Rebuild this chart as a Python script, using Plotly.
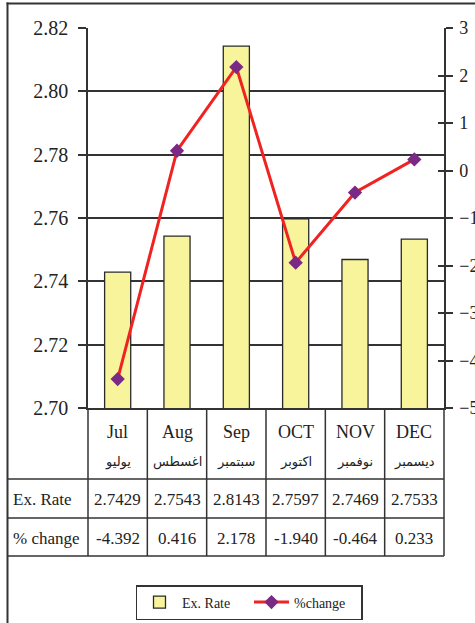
import plotly.graph_objects as go

# ---------------- data ----------------
months_en = ["Jul", "Aug", "Sep", "OCT", "NOV", "DEC"]
months_ar = ["يوليو", "اغسطس", "سبتمبر", "اكتوبر", "نوفمبر", "ديسمبر"]
ex_rate = [2.7429, 2.7543, 2.8143, 2.7597, 2.7469, 2.7533]
pct_change = [-4.392, 0.416, 2.178, -1.940, -0.464, 0.233]
left_ticks = [2.70, 2.72, 2.74, 2.76, 2.78, 2.80, 2.82]
right_ticks = [-5, -4, -3, -2, -1, 0, 1, 2, 3]
row_labels = ["Ex. Rate", "% change"]

# ---------------- layout helpers ----------------
W, H = 475, 623
L, R, T, B = 88, 31, 28, 215
PW, PH = W - L - R, H - T - B
def py(pix):
    return (H - B - pix) / PH
def px(pix):
    return (pix - L) / PW

SERIF = "Liberation Serif, Times New Roman, serif"
DARK = "#222222"
LINEC = "#333333"

fig = go.Figure()
fig.add_trace(go.Bar(
    x=months_en, y=ex_rate, name="Ex. Rate", yaxis="y",
    width=0.44,
    marker=dict(color="#F7F49C", line=dict(color="#2a2a2a", width=1.3)),
))
fig.add_trace(go.Scatter(
    x=months_en, y=pct_change, name="%change", yaxis="y2",
    mode="lines+markers",
    line=dict(color="#F02323", width=3),
    marker=dict(symbol="diamond", size=11, color="#7A2A84"),
))
# helper trace for the inside half of the right-axis ticks
fig.add_trace(go.Scatter(
    x=months_en, y=pct_change, yaxis="y3", mode="lines",
    opacity=0, showlegend=False, hoverinfo="skip",
))

shapes = []
# outer frame (left + top)
shapes.append(dict(type="line", xref="paper", yref="paper",
                   x0=px(7.5), x1=px(7.5), y0=py(2.5), y1=py(H + 5),
                   line=dict(color=LINEC, width=2)))
shapes.append(dict(type="line", xref="paper", yref="paper",
                   x0=px(6.5), x1=px(W + 5), y0=py(3.5), y1=py(3.5),
                   line=dict(color=LINEC, width=2)))
# table horizontal lines
for yy in (479, 518, 556):
    shapes.append(dict(type="line", xref="paper", yref="paper",
                       x0=px(7.5), x1=1, y0=py(yy), y1=py(yy),
                       line=dict(color=LINEC, width=1.5)))
# table vertical lines (category boundaries)
n = len(months_en)
for k in range(n + 1):
    shapes.append(dict(type="line", xref="paper", yref="paper",
                       x0=k / n, x1=k / n, y0=0, y1=py(556),
                       line=dict(color=LINEC, width=1.5)))

annotations = []
for i, m in enumerate(months_en):
    annotations.append(dict(x=m, xref="x", y=py(432), yref="paper",
                            xanchor="center", yanchor="middle",
                            text=m, showarrow=False,
                            font=dict(family=SERIF, size=18, color=DARK)))
    annotations.append(dict(x=m, xref="x", y=py(462), yref="paper",
                            xanchor="center", yanchor="middle",
                            text=months_ar[i], showarrow=False,
                            font=dict(family="DejaVu Sans, sans-serif", size=13, color=DARK)))
    annotations.append(dict(x=m, xref="x", y=py(499), yref="paper",
                            xanchor="center", yanchor="middle",
                            text=f"{ex_rate[i]:.4f}", showarrow=False,
                            font=dict(family=SERIF, size=17, color=DARK)))
    annotations.append(dict(x=m, xref="x", y=py(538), yref="paper",
                            xanchor="center", yanchor="middle",
                            text=f"{pct_change[i]:.3f}", showarrow=False,
                            font=dict(family=SERIF, size=17, color=DARK)))
for j, lab in enumerate(row_labels):
    annotations.append(dict(x=px(11), xref="paper", xanchor="left",
                            y=py(499 + 39 * j), yref="paper", yanchor="middle",
                            text=lab, showarrow=False,
                            font=dict(family=SERIF, size=17, color=DARK)))

fig.update_layout(
    width=W, height=H,
    margin=dict(l=L, r=R, t=T, b=B, autoexpand=False),
    paper_bgcolor="white", plot_bgcolor="white",
    xaxis=dict(range=[-0.5, n - 0.5], showticklabels=False, ticks="",
               showline=True, linecolor=LINEC, linewidth=1.5,
               showgrid=False, zeroline=False, fixedrange=True),
    yaxis=dict(range=[2.70, 2.82], tickvals=left_ticks,
               ticktext=[f"{v:.2f}" for v in left_ticks],
               ticks="outside", ticklen=8, tickwidth=1.5, tickcolor=LINEC,
               showline=True, linecolor=LINEC, linewidth=1.5,
               showgrid=True, gridcolor=LINEC, gridwidth=1.5,
               zeroline=False, ticklabelstandoff=6,
               tickfont=dict(family=SERIF, size=20, color=DARK)),
    yaxis2=dict(range=[-5, 3], tickvals=right_ticks, overlaying="y", side="right",
                anchor="x",
                ticks="outside", ticklen=7, tickwidth=1.5, tickcolor=LINEC,
                showline=True, linecolor=LINEC, linewidth=1.5,
                showgrid=False, zeroline=False, ticklabelstandoff=3,
                tickfont=dict(family=SERIF, size=18, color=DARK)),
    yaxis3=dict(range=[-5, 3], tickvals=right_ticks, overlaying="y", side="right",
                anchor="x", ticks="inside", ticklen=6, tickwidth=1.5,
                tickcolor=LINEC, showticklabels=False, showline=False,
                showgrid=False, zeroline=False),
    showlegend=True,
    legend=dict(orientation="h", x=px(249), xanchor="center",
                y=py(585), yanchor="top",
                bordercolor=LINEC, borderwidth=1.5, bgcolor="white",
                font=dict(family=SERIF, size=14, color=DARK),
                itemwidth=35, entrywidth=62),
    shapes=shapes,
    annotations=annotations,
)

fig.write_html("out.html", config={"displayModeBar": False},
               post_script="document.body.style.margin='0';document.body.style.overflow='hidden';")
